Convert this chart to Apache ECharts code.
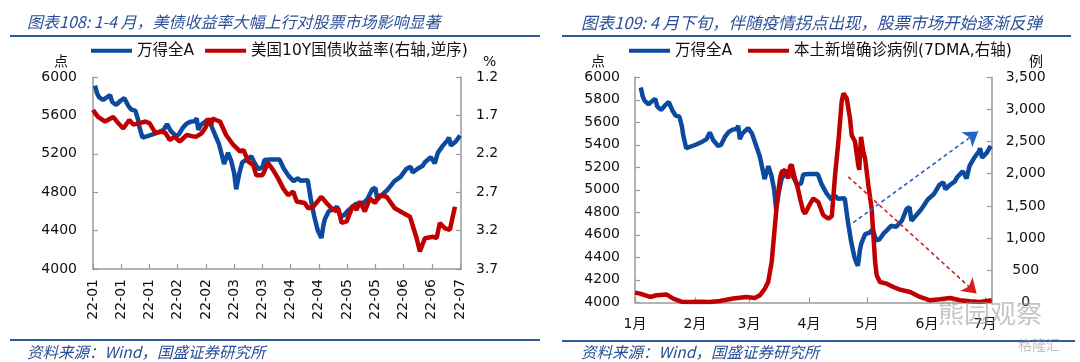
<!DOCTYPE html>
<html><head><meta charset="utf-8">
<script src="https://cdn.jsdelivr.net/npm/echarts@6/dist/echarts.min.js"></script>
<style>html,body{margin:0;padding:0;background:#fff}#c{width:1080px;height:362px}</style>
</head><body><div id="c"></div>
<script>
// Days counted from 2022-01-01 (day 0)
const windDays = [3,4,5,7,9,10.5,11.5,13.5,15.5,17.5,19.5,21,23,24.3,25,26.5,29,32,35,37,38.7,40.5,43,44.5,46.5,48.5,50.5,52.5,53.4,54.2,55.5,58.5,60.5,62.5,64.5,66,67,69,70.5,72,73,74.5,76,79,80.5,82,84,86,87,90,94.5,96.5,99,101.5,103.5,105,108.5,110,111.7,113.5,114.6,115.3,116.3,117,119,121.5,123,124.7,126.5,128.5,130,132.5,135,138,140.5,142,143,145,148,151.5,154.5,157.5,159.5,160.5,163,165.5,166.5,169.5,171.5,173,175.5,178,178.5,179.5,182,184];
const windVals = [5910,5830,5790,5760,5790,5810,5740,5710,5750,5780,5700,5660,5650,5560,5480,5370,5385,5405,5430,5450,5510,5440,5390,5400,5470,5515,5535,5540,5570,5450,5500,5548,5500,5400,5300,5180,5095,5210,5130,5000,4830,4990,5110,5150,5175,5110,5040,5060,5135,5140,5140,5050,4970,4915,4945,4920,4925,4730,4550,4400,4350,4325,4460,4520,4605,4620,4650,4550,4560,4610,4635,4680,4670,4725,4830,4845,4725,4765,4825,4915,4960,5045,5065,5005,5045,5075,5110,5165,5100,5210,5285,5345,5370,5285,5330,5390];

const ustDays = [2,4.5,8,12,14.5,17,20,22,25,28,30,33,36,38,40,42.5,45,48.5,51,53,56,58,59,60.5,61.3,63,65,68,71.6,75,76.6,79,81.5,83,86,88.8,91.3,93.8,96.3,98.8,101.3,103,107,108.7,111.2,115.3,117.8,120.3,122.8,123.6,125.3,127.8,131,132.7,134.4,136.8,139.3,141.8,144.3,147.6,151.7,155.8,159.2,162.5,164.1,166.6,170.7,172.4,174,176.5,179,181.5];
const ustVals = [1.63,1.72,1.78,1.72,1.80,1.87,1.76,1.82,1.80,1.78,1.80,1.93,1.91,1.93,2.02,1.98,2.04,1.955,1.97,1.98,1.93,1.85,1.74,1.83,1.74,1.76,1.78,1.955,2.085,2.17,2.15,2.30,2.35,2.48,2.48,2.32,2.41,2.52,2.65,2.74,2.69,2.82,2.84,2.91,2.89,2.76,2.84,2.91,2.95,2.91,3.10,3.08,2.87,2.93,2.82,2.95,2.78,2.84,2.74,2.76,2.91,2.97,3.02,3.30,3.47,3.30,3.28,3.30,3.10,3.17,3.19,2.89];

const caseDays = [0,2.6,7.8,11.2,16.4,19.8,24,28.5,33.6,38.8,44,50.8,57.7,62,64.6,67.2,68.9,70.7,72.4,73.3,75,75.9,77.6,79.3,80.2,81,82.5,84,85.5,87,88,90,92.2,94.8,97.4,100,101.8,103.5,105.2,106.9,107.8,109.5,111.2,112.1,113.8,115.5,116,116.9,118.1,119,120.7,122.4,123.3,124.2,125,126.7,130.2,133.6,137.1,142.3,147.4,152.6,157.8,163,168.1,173.3,178.5,184.5];
const caseVals = [151,135,83,109,120,58,10,5,10,5,20,58,83,67,109,213,316,628,1200,1511,1927,2030,2057,1927,2108,2145,1950,1800,1600,1420,1380,1500,1615,1560,1355,1300,1340,1980,2500,3120,3250,3175,2860,2600,2500,2130,2060,2575,2340,2240,1820,1460,1045,630,420,316,290,238,198,160,83,31,47,67,31,16,5,31];

const leftTickDays = [2,16,30,44,58,72,86,100,114,128,142,156,170,184];
const leftTickLabels = ['22-01','22-01','22-01','22-02','22-02','22-03','22-03','22-04','22-04','22-05','22-05','22-06','22-06','22-07'];
const monthTickDays = [0,31,59,90,120,151,181];
const monthTickLabels = ['1月','2月','3月','4月','5月','6月','7月'];
const ustTicks = [1.2,1.7,2.2,2.7,3.2,3.7];

// annotation arrows (data coordinates)
const trendUp = [[112.9,4708],[177.5,5519]];
const trendDown = [[110.3,1952],[176.7,136]];

const FONT = "'DejaVu Sans','Noto Sans CJK SC',sans-serif";
const CJK = "'Noto Sans CJK SC','DejaVu Sans',sans-serif";
const BLUE = '#0B4A9E', RED = '#C00000', AX = '#9a9a9a', TXT = '#111', TITLE = '#2A4F96';
const LW = 4.5;

const pairs = (d, v) => d.map((x, i) => [x, v[i]]);
const axLine = {show: true, lineStyle: {color: AX, width: 1.5}};
const axTick = (vals) => ({show: true, inside: true, length: 5, lineStyle: {color: AX, width: 1.2}, customValues: vals});

const chart = echarts.init(document.getElementById('c'), null, {renderer: 'canvas'});
chart.setOption({
  animation: false,
  backgroundColor: '#fff',
  title: [
    {text: '图表108: 1-4 月，美债收益率大幅上行对股票市场影响显著', left: 22, top: 9,
     textStyle: {fontFamily: CJK, fontStyle: 'italic', fontWeight: 'normal', fontSize: 16, color: TITLE}},
    {text: '图表109: 4 月下旬，伴随疫情拐点出现，股票市场开始逐渐反弹', left: 576, top: 9,
     textStyle: {fontFamily: CJK, fontStyle: 'italic', fontWeight: 'normal', fontSize: 16.5, color: TITLE}},
    {text: '资料来源：Wind，国盛证券研究所', left: 22, top: 339,
     textStyle: {fontFamily: CJK, fontStyle: 'italic', fontWeight: 'normal', fontSize: 15.5, color: TITLE}},
    {text: '资料来源：Wind，国盛证券研究所', left: 576, top: 339,
     textStyle: {fontFamily: CJK, fontStyle: 'italic', fontWeight: 'normal', fontSize: 15.5, color: TITLE}}
  ],
  legend: [
    {left: 91, top: 43, padding: 0, itemWidth: 41, itemHeight: 4, itemGap: 11, icon: 'rect',
     data: ['万得全A', '美国10Y国债收益率(右轴,逆序)'],
     textStyle: {fontFamily: FONT, fontSize: 15.5, color: TXT}},
    {left: 629, top: 43, padding: 0, itemWidth: 41, itemHeight: 4, itemGap: 11, icon: 'rect',
     data: ['万得全A ', '本土新增确诊病例(7DMA,右轴)'],
     textStyle: {fontFamily: FONT, fontSize: 15.5, color: TXT}}
  ],
  grid: [
    {left: 93, top: 77, width: 368, height: 192},
    {left: 635, top: 77.3, width: 356.7, height: 225}
  ],
  xAxis: [
    {type: 'value', gridIndex: 0, min: 2, max: 184.5, axisLine: axLine, axisTick: axTick(leftTickDays),
     splitLine: {show: false},
     axisLabel: {customValues: leftTickDays, rotate: 90, margin: 10, fontFamily: FONT, fontSize: 14, color: TXT,
       formatter: v => leftTickLabels[leftTickDays.indexOf(v)] || ''}},
    {type: 'value', gridIndex: 1, min: 0, max: 184.5, axisLine: axLine, axisTick: axTick(monthTickDays),
     splitLine: {show: false},
     axisLabel: {customValues: monthTickDays, margin: 15, fontFamily: FONT, fontSize: 14, color: TXT,
       formatter: v => monthTickLabels[monthTickDays.indexOf(v)] || ''}}
  ],
  yAxis: [
    {type: 'value', gridIndex: 0, min: 4000, max: 6000, interval: 400, axisLine: axLine,
     axisTick: {show: true, inside: true, length: 5, lineStyle: {color: AX, width: 1.2}}, splitLine: {show: false},
     axisLabel: {margin: 16, fontFamily: FONT, fontSize: 14, color: TXT, formatter: v => String(v)}},
    {type: 'value', gridIndex: 0, position: 'right', inverse: true, min: 1.2, max: 3.7,
     axisLine: axLine, axisTick: axTick(ustTicks), splitLine: {show: false},
     axisLabel: {customValues: ustTicks, margin: 15, fontFamily: FONT, fontSize: 14, color: TXT, formatter: v => v.toFixed(1)}},
    {type: 'value', gridIndex: 1, min: 4000, max: 6000, interval: 200, axisLine: axLine,
     axisTick: {show: true, inside: true, length: 5, lineStyle: {color: AX, width: 1.2}}, splitLine: {show: false},
     axisLabel: {margin: 15, fontFamily: FONT, fontSize: 14, color: TXT, formatter: v => String(v)}},
    {type: 'value', gridIndex: 1, position: 'right', min: 0, max: 3500, interval: 500, axisLine: axLine,
     axisTick: {show: true, inside: true, length: 5, lineStyle: {color: AX, width: 1.2}}, splitLine: {show: false},
     axisLabel: {margin: 34, align: 'center', fontFamily: FONT, fontSize: 14, color: TXT,
       formatter: v => v.toLocaleString('en-US')}}
  ],
  series: [
    {name: '万得全A', type: 'line', xAxisIndex: 0, yAxisIndex: 0, data: pairs(windDays, windVals),
     showSymbol: false, color: BLUE, lineStyle: {width: LW, color: BLUE}, z: 2},
    {name: '美国10Y国债收益率(右轴,逆序)', type: 'line', xAxisIndex: 0, yAxisIndex: 1, data: pairs(ustDays, ustVals),
     showSymbol: false, color: RED, lineStyle: {width: LW, color: RED}, z: 3},
    {name: '万得全A ', type: 'line', xAxisIndex: 1, yAxisIndex: 2, data: pairs(windDays, windVals),
     showSymbol: false, color: BLUE, lineStyle: {width: LW, color: BLUE}, z: 2,
     markLine: {silent: true, symbol: ['none', 'arrow'], symbolSize: 14, label: {show: false},
       lineStyle: {color: '#2563C4', type: [4, 3], width: 1.6},
       data: [[{coord: trendUp[0]}, {coord: trendUp[1]}]]}},
    {name: '本土新增确诊病例(7DMA,右轴)', type: 'line', xAxisIndex: 1, yAxisIndex: 3, data: pairs(caseDays, caseVals),
     showSymbol: false, color: RED, lineStyle: {width: LW, color: RED}, z: 3,
     markLine: {silent: true, symbol: ['none', 'arrow'], symbolSize: 14, label: {show: false},
       lineStyle: {color: '#D81E1E', type: [4, 3], width: 1.6},
       data: [[{coord: trendDown[0]}, {coord: trendDown[1]}]]}}
  ],
  graphic: [
    {type: 'line', shape: {x1: 10, y1: 36, x2: 540, y2: 36}, style: {stroke: '#2E5A9E', lineWidth: 2}},
    {type: 'line', shape: {x1: 562, y1: 36, x2: 1071, y2: 36}, style: {stroke: '#2E5A9E', lineWidth: 2}},
    {type: 'line', shape: {x1: 10, y1: 340, x2: 540, y2: 340}, style: {stroke: '#2E5A9E', lineWidth: 2}},
    {type: 'line', shape: {x1: 562, y1: 341, x2: 1075, y2: 341}, style: {stroke: '#2E5A9E', lineWidth: 2}},
    {type: 'text', left: 54, top: 54, style: {text: '点', font: '14px ' + CJK, fill: TXT}},
    {type: 'text', left: 483, top: 55, style: {text: '%', font: '14px ' + FONT, fill: TXT}},
    {type: 'text', left: 591, top: 54, style: {text: '点', font: '14px ' + CJK, fill: TXT}},
    {type: 'text', left: 1029, top: 54, style: {text: '例', font: '14px ' + CJK, fill: TXT}},
    {type: 'text', left: 938, top: 300, z: 100, style: {text: '熊园观察', font: '26px ' + CJK, fill: 'rgba(150,150,150,0.55)'}},
    {type: 'text', left: 1018, top: 338, z: 100, style: {text: '格隆汇', font: '14px ' + CJK, fill: 'rgba(150,150,150,0.6)'}}
  ]
});
</script></body></html>
